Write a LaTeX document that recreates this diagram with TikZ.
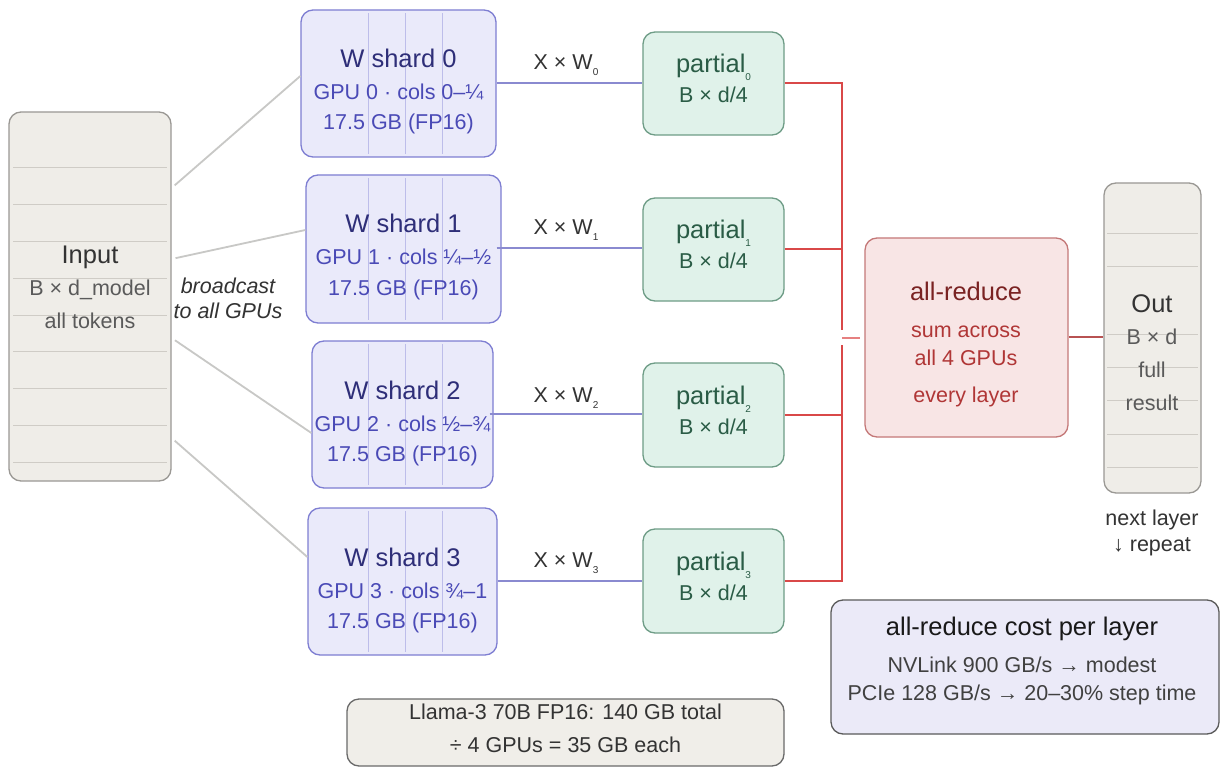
\documentclass[tikz,border=0pt]{standalone}
\usepackage{fontspec}
\setmainfont{Liberation Sans}
\usetikzlibrary{calc}

% palette
\definecolor{tokfill}{HTML}{EFEDE8}
\definecolor{tokdraw}{HTML}{9A9894}
\definecolor{tokrule}{HTML}{CFCCC6}
\definecolor{tokhead}{HTML}{333333}
\definecolor{toksub}{HTML}{5A5A5A}
\definecolor{bcast}{HTML}{C8C8C6}
\definecolor{shfill}{HTML}{EAEAFA}
\definecolor{shdraw}{HTML}{7E7ED2}
\definecolor{shrule}{HTML}{BDBDEA}
\definecolor{shhead}{HTML}{2E2E78}
\definecolor{shsub}{HTML}{4A4AB6}
\definecolor{mulline}{HTML}{8A8AD0}
\definecolor{pfill}{HTML}{E0F2EA}
\definecolor{pdraw}{HTML}{6E9C86}
\definecolor{ptext}{HTML}{2A5C46}
\definecolor{busred}{HTML}{D94848}
\definecolor{stubred}{HTML}{E68080}
\definecolor{arfill}{HTML}{F8E5E5}
\definecolor{ardraw}{HTML}{C47878}
\definecolor{arhead}{HTML}{7A2222}
\definecolor{arsub}{HTML}{B03636}
\definecolor{outlink}{HTML}{B85252}
\definecolor{costfill}{HTML}{EBEAF8}
\definecolor{costdraw}{HTML}{5A5A5A}
\definecolor{notefill}{HTML}{F0EEE9}
\definecolor{notedraw}{HTML}{6A6A6A}

\newcommand{\bigtxt}{\fontsize{25.5}{30}\selectfont}
\newcommand{\smtxt}{\fontsize{21.5}{26}\selectfont}
\newcommand{\subidx}[2]{\raisebox{-#1}{\fontsize{10}{10}\selectfont #2}}

\tikzset{
  box/.style={rectangle, rounded corners=12pt, line width=1.3pt, inner sep=0pt},
  tokbox/.style={box, fill=tokfill, draw=tokdraw},
  shardbox/.style={box, fill=shfill, draw=shdraw},
  partbox/.style={box, fill=pfill, draw=pdraw},
  arbox/.style={box, fill=arfill, draw=ardraw},
  costbox/.style={box, fill=costfill, draw=costdraw},
  notebox/.style={box, fill=notefill, draw=notedraw},
  txt/.style={inner sep=0pt, anchor=base},
  bline/.style={draw=bcast, line width=1.8pt},
  mline/.style={draw=mulline, line width=1.4pt},
  rline/.style={draw=busred, line width=1.5pt},
}

\begin{document}
\begin{tikzpicture}[x=1pt, y=-1pt]
\useasboundingbox (0,0) rectangle (1220,767);
\fill[white] (0,0) rectangle (1220,767);

% ---------- input tokens ----------
\node[tokbox, minimum width=162pt, minimum height=369pt] (in) at (90,296.5) {};
\foreach \yy in {167.7,204.3,241.7,278.3,315,351.7,388.3,425,462.7}
  \draw[tokrule, line width=1pt] (13,\yy) -- (167,\yy);
\node[txt, text=tokhead] (inT) at (90,263) {\bigtxt Input};
\node[txt, text=toksub] (inA) at (90,295) {\smtxt B × d\_model};
\node[txt, text=toksub] (inB) at (90,328) {\smtxt all tokens};

% ---------- weight shards ----------
\node[shardbox, minimum width=195pt, minimum height=147pt] (s0) at (398.5,83.5) {};
\node[shardbox, minimum width=195pt, minimum height=148pt] (s1) at (403.5,249) {};
\node[shardbox, minimum width=181pt, minimum height=147pt] (s2) at (402.5,414.5) {};
\node[shardbox, minimum width=189pt, minimum height=147pt] (s3) at (402.5,581.5) {};
\foreach \s in {s0,s1,s2,s3}
  \foreach \xx in {368,405,442}
    \draw[shrule, line width=1pt] ($(\xx,0 |- \s.north)+(0,4)$) -- ($(\xx,0 |- \s.south)+(0,-4)$);

\foreach \s/\top/\cx/\cols in {0/10/398.5/0–¼, 1/175/403.5/¼–½, 2/341/402.5/½–¾, 3/508/402.5/¾–1}{
  \node[txt, text=shhead] (sT\s) at (\cx,\top+58) {\bigtxt W shard \s};
  \node[txt, text=shsub] (sA\s) at (\cx,\top+90) {\smtxt GPU \s\ · cols \cols};
  \node[txt, text=shsub] (sB\s) at (\cx,\top+120) {\smtxt 17.5 GB (FP16)};
}

% ---------- broadcast ----------
\draw[bline, shorten <=4pt] (in.east |- 0,188) -- (s0.west |- 0,76);
\draw[bline, shorten <=4pt] (in.east |- 0,259) -- (s1.west |- 0,230);
\draw[bline, shorten <=4pt] (in.east |- 0,338) -- (s2.west |- 0,433);
\draw[bline, shorten <=4pt] (in.east |- 0,438) -- (s3.west |- 0,557);
\node[txt, text=tokhead] (bc1) at (228,293) {\smtxt\itshape broadcast};
\node[txt, text=tokhead] (bc2) at (228,318) {\smtxt\itshape to all GPUs};

% ---------- partial results ----------
\node[partbox, minimum width=141pt, minimum height=103pt] (p0) at (713.5,83.5) {};
\node[partbox, minimum width=141pt, minimum height=103pt] (p1) at (713.5,249.5) {};
\node[partbox, minimum width=141pt, minimum height=104pt] (p2) at (713.5,415) {};
\node[partbox, minimum width=141pt, minimum height=104pt] (p3) at (713.5,581) {};
\foreach \i/\top in {0/32,1/198,2/363,3/529}{
  \node[txt, text=ptext] (pT\i) at (713.5,\top+41) {\bigtxt partial\subidx{8pt}{\i}};
  \node[txt, text=ptext] (pA\i) at (713.5,\top+71) {\smtxt B × d/4};
}

% ---------- local matmuls ----------
\draw[mline] (s0.east |- 0,83) -- (p0.west |- 0,83);
\draw[mline, shorten <=-5pt] (s1.east |- 0,248) -- (p1.west |- 0,248);
\draw[mline, shorten <=-4pt] (s2.east |- 0,414) -- (p2.west |- 0,414);
\draw[mline] (s3.east |- 0,581) -- (p3.west |- 0,581);
\foreach \i/\yy in {0/70,1/235,2/402,3/567}
  \node[txt, text=black!80] (xw\i) at (566,\yy) {\smtxt X × W\subidx{6pt}{\i}};

% ---------- all-reduce ----------
\node[arbox, minimum width=203pt, minimum height=199pt] (ar) at (966.5,337.5) {};
\node[txt, text=arhead] (arT) at (966,300) {\bigtxt all-reduce};
\node[txt, text=arsub] (arA) at (966,337) {\smtxt sum across};
\node[txt, text=arsub] (arB) at (966,365) {\smtxt all 4 GPUs};
\node[txt, text=arsub] (arC) at (966,402) {\smtxt every layer};

\coordinate (busA) at (842,330);
\coordinate (busB) at (842,345);
\draw[rline] (p0.east |- 0,83) -| (busA);
\draw[rline] (p3.east |- 0,581) -| (busB);
\draw[rline] (p1.east |- 0,249) -- (842,249);
\draw[rline] (p2.east |- 0,415) -- (842,415);
\draw[draw=stubred, line width=1.5pt, shorten >=4pt] (842,338) -- (ar.west |- 0,338);

% ---------- output ----------
\node[tokbox, minimum width=97pt, minimum height=310pt] (out) at (1152.5,338) {};
\foreach \yy in {234,267,334,367,400,434,467}
  \draw[tokrule, line width=1pt] (1107,\yy) -- (1198,\yy);
\node[txt, text=tokhead] (outT) at (1152,312) {\bigtxt Out};
\node[txt, text=toksub] (outA) at (1152,344) {\smtxt B × d};
\node[txt, text=toksub] (outB) at (1152,377) {\smtxt full};
\node[txt, text=toksub] (outC) at (1152,410) {\smtxt result};
\draw[draw=outlink, line width=2.6pt] (ar.east |- 0,337) -- (out.west |- 0,337);
\node[txt, text=tokhead] (nx1) at (1152,525) {\smtxt next layer};
\node[txt, text=tokhead] (nx2) at (1152,551) {\smtxt ↓ repeat};

% ---------- cost note ----------
\node[costbox, minimum width=388pt, minimum height=134pt] (cost) at (1025,667) {};
\node[txt, text=black!90] (cT) at (1022,635) {\bigtxt all-reduce cost per layer};
\node[txt, text=black!75] (cA) at (1022,672) {\smtxt NVLink 900 GB/s → modest};
\node[txt, text=black!75] (cB) at (1022,700) {\smtxt PCIe 128 GB/s → 20–30\% step time};

% ---------- model size note ----------
\node[notebox, minimum width=437pt, minimum height=67pt] (note) at (565.5,732.5) {};
\node[txt, text=black!80] (nA) at (565.5,719) {\smtxt Llama-3 70B FP16: 140 GB total};
\node[txt, text=black!80] (nB) at (565.5,752) {\smtxt ÷ 4 GPUs = 35 GB each};
\end{tikzpicture}
\end{document}
